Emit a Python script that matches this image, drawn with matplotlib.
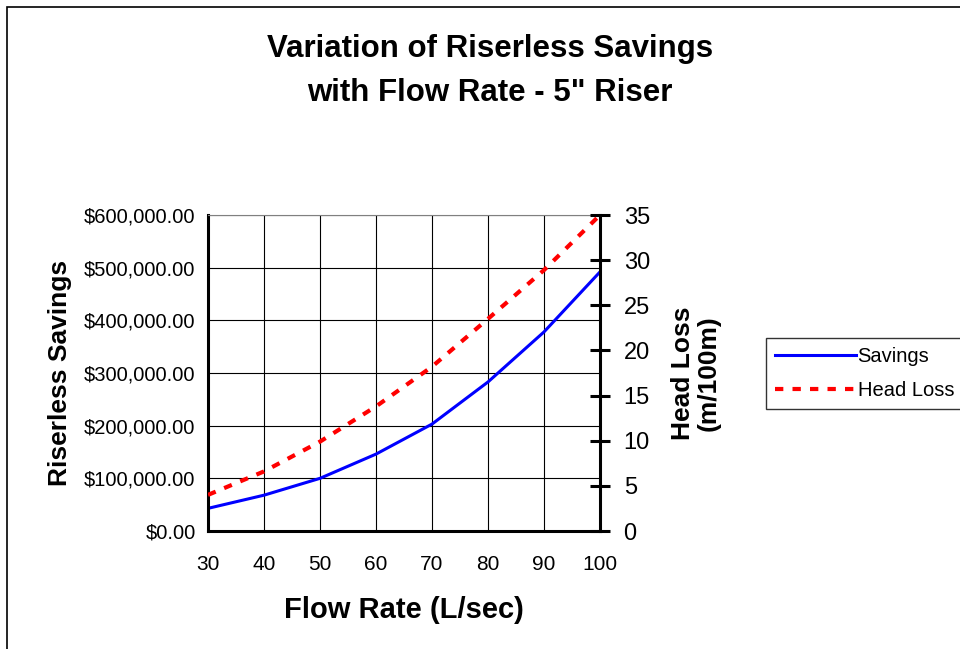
import matplotlib
matplotlib.use('Agg')
from matplotlib import pyplot as plt
from matplotlib.patches import Rectangle
from matplotlib.ticker import FuncFormatter, MultipleLocator

plt.rcParams['font.family'] = ['Liberation Sans', 'DejaVu Sans']

flow_rate = [30, 40, 50, 60, 70, 80, 90, 100]  # L/sec
savings = [43000, 68000, 100000, 146000, 203000, 283000, 378000, 492000]  # $
head_loss = [4.0, 6.6, 9.9, 13.8, 18.2, 23.5, 28.9, 35.0]  # m/100m

fig = plt.figure(figsize=(9.6, 6.49), dpi=100)
ax = fig.add_axes([208 / 960, 118 / 649, 392 / 960, 316 / 649])
ax2 = ax.twinx()

# outer chart border (cut off on right and bottom)
fig.patches.append(Rectangle((7 / 960, -0.1), 1.2, 1 - 7 / 649 + 0.1,
                             transform=fig.transFigure, fill=False,
                             edgecolor='black', linewidth=1.2))

line1, = ax.plot(flow_rate, savings, color='#0000ff', linewidth=2.2, label='Savings')
line2, = ax2.plot(flow_rate, head_loss, color='#ff0000', linewidth=3,
                  linestyle=(0, (2, 2.2)), label='Head Loss')

ax.set_xlim(30, 100)
ax.set_ylim(0, 600000)
ax2.set_ylim(0, 35)
ax.xaxis.set_major_locator(MultipleLocator(10))
ax.yaxis.set_major_locator(MultipleLocator(100000))
ax2.yaxis.set_major_locator(MultipleLocator(5))
ax.yaxis.set_major_formatter(FuncFormatter(lambda v, p: f'${v:,.2f}'))

ax.grid(True, color='black', linewidth=0.8)
ax.tick_params(axis='y', length=0, labelsize=14.5, pad=9)
ax.tick_params(axis='x', length=0, labelsize=15, pad=17)
ax2.tick_params(axis='y', direction='inout', length=14, width=2.2, labelsize=17, pad=10)

for s in ['left', 'bottom']:
    ax.spines[s].set_linewidth(2.2)
ax.spines['top'].set_color('#808080')
ax.spines['right'].set_visible(False)
ax2.spines['right'].set_linewidth(2.2)
for s in ['left', 'bottom', 'top']:
    ax2.spines[s].set_visible(False)

ax.set_xlabel('Flow Rate (L/sec)', fontsize=21, fontweight='bold', labelpad=16)
ax.set_ylabel('Riserless Savings', fontsize=19, fontweight='bold', labelpad=9)
ax2.set_ylabel('Head Loss\n(m/100m)', fontsize=19, fontweight='bold', labelpad=15,
               linespacing=1.1)

fig.text(490 / 960, 1 - 71 / 649, 'Variation of Riserless Savings\nwith Flow Rate - 5" Riser',
         ha='center', va='center', fontsize=22.5, fontweight='bold', linespacing=1.62)

leg = fig.legend([line1, line2], ['Savings', 'Head Loss'], loc='upper left',
                 bbox_to_anchor=(766 / 960, 1 - 338 / 649), fontsize=14.5,
                 frameon=True, fancybox=False, edgecolor='black', handlelength=4.0,
                 handletextpad=0.1, borderpad=0.45, labelspacing=0.75, borderaxespad=0)
leg.get_frame().set_linewidth(1.0)

fig.savefig('out.png', dpi=100)
